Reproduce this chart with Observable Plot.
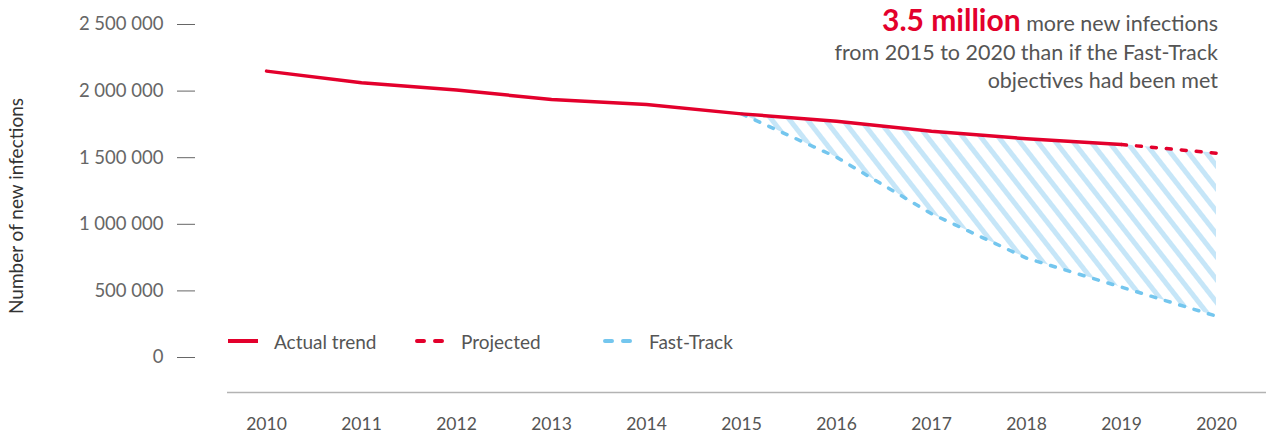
<!DOCTYPE html>
<html><head><meta charset="utf-8">
<script src="https://cdn.jsdelivr.net/npm/d3@7"></script>
<script src="https://cdn.jsdelivr.net/npm/@observablehq/plot@0.6"></script>
<style>
body{margin:0;background:#fff;font-family:Lato,"Open Sans",sans-serif;}
#wrap{position:relative;width:1266px;height:437px;overflow:hidden;}
#wrap > svg{position:absolute;left:0;top:0;}
.ytitle{position:absolute;left:15px;top:206px;transform:translate(-50%,-50%) rotate(-90deg);white-space:nowrap;font-size:19px;color:#333;}
.note{position:absolute;right:48px;top:5px;text-align:right;font-size:21.5px;line-height:28.5px;color:#555;}
.note b{color:#e3002c;font-size:30px;font-weight:700;}
.leg{position:absolute;top:330px;height:22px;display:flex;align-items:center;font-size:19px;color:#555;white-space:nowrap;}
#wrap .leg svg{position:static;margin-right:14px;display:block;}
</style></head><body><div id="wrap"></div>
<script>
const years = [2010, 2011, 2012, 2013, 2014, 2015, 2016, 2017, 2018, 2019, 2020];
const actual = [2150000, 2062000, 2008000, 1937000, 1899000, 1829000, 1774000, 1699000, 1642000, 1599000, null];
const projected = [null, null, null, null, null, null, null, null, null, 1599000, 1534000];
const fastTrack = [null, null, null, null, null, 1829000, 1504000, 1079000, 746000, 528000, 310000];
const yTicks = [0, 500000, 1000000, 1500000, 2000000, 2500000];
const legendLabels = ["Actual trend", "Projected", "Fast-Track"];
const noteBold = "3.5 million";
const noteLines = [" more new infections", "from 2015 to 2020 than if the Fast-Track", "objectives had been met"];
const yTitle = "Number of new infections";

const RED = "#e3002c", BLUE = "#74c6ee", HATCH = "#c6e6f8";

const rows = years.map((year, i) => ({year, actual: actual[i], projected: projected[i], fast: fastTrack[i]}));
const actualRows = rows.filter(d => d.actual != null);
const projRows = rows.filter(d => d.projected != null);
const fastRows = rows.filter(d => d.fast != null);
const areaRows = fastRows.map(d => ({year: d.year, lo: d.fast, hi: d.projected != null ? d.projected : d.actual}));

const fmt = d => d3.format(",")(d).replace(/,/g, " ");

const plot = Plot.plot({
  width: 1266, height: 437,
  marginLeft: 227, marginRight: 0, marginTop: 24, marginBottom: 80,
  style: {fontFamily: "Lato, 'Open Sans', sans-serif", color: "#666", background: "transparent"},
  x: {type: "point", domain: years, padding: 0.468, align: 0.44},
  y: {domain: [0, 2500000]},
  marks: [
    Plot.areaY(areaRows, {x: "year", y1: "lo", y2: "hi", fill: "url(#hatch)"}),
    Plot.ruleY([0], {stroke: "#b3b3b3", strokeWidth: 1.5, dy: 35}),
    Plot.axisY(yTicks, {tickSize: 18, tickPadding: 14, dx: -32, tickFormat: fmt, fontSize: 18.5, label: null, stroke: "#666"}),
    Plot.axisX({tickSize: 0, tickPadding: 60, tickFormat: d => String(d), fontSize: 17.5, label: null, fill: "#555"}),
    Plot.lineY(fastRows, {x: "year", y: "fast", stroke: BLUE, strokeWidth: 3.5, strokeDasharray: "5,10", strokeLinecap: "round"}),
    Plot.lineY(projRows, {x: "year", y: "projected", stroke: RED, strokeWidth: 3.5, strokeDasharray: "5,10", strokeLinecap: "round"}),
    Plot.lineY(actualRows, {x: "year", y: "actual", stroke: RED, strokeWidth: 3.5})
  ]
});

const svg = plot;
const defs = d3.select(svg).insert("defs", ":first-child");
const pat = defs.append("pattern").attr("id", "hatch").attr("patternUnits", "userSpaceOnUse")
  .attr("width", 14).attr("height", 14).attr("patternTransform", "rotate(-38)");
pat.append("rect").attr("width", 5).attr("height", 14).attr("fill", HATCH);

const wrap = document.getElementById("wrap");
wrap.appendChild(svg);

const t = document.createElement("div"); t.className = "ytitle"; t.textContent = yTitle; wrap.appendChild(t);

const note = document.createElement("div"); note.className = "note";
const b = document.createElement("b"); b.textContent = noteBold; note.appendChild(b);
note.appendChild(document.createTextNode(noteLines[0]));
for (let i = 1; i < noteLines.length; i++) { note.appendChild(document.createElement("br")); note.appendChild(document.createTextNode(noteLines[i])); }
wrap.appendChild(note);

const legLeft = [228, 415, 603];
const legStyle = [{c: RED, dash: null}, {c: RED, dash: "7,11"}, {c: BLUE, dash: "7,11"}];
legendLabels.forEach((lab, i) => {
  const d = document.createElement("div"); d.className = "leg"; d.style.left = legLeft[i] + "px";
  const s = d3.create("svg").attr("width", 32).attr("height", 8);
  s.append("line").attr("x1", legStyle[i].dash ? 2 : 0).attr("x2", 30).attr("y1", 4).attr("y2", 4)
    .attr("stroke", legStyle[i].c).attr("stroke-width", 4).attr("stroke-linecap", legStyle[i].dash ? "round" : "butt")
    .attr("stroke-dasharray", legStyle[i].dash);
  d.appendChild(s.node());
  const sp = document.createElement("span"); sp.textContent = lab; d.appendChild(sp);
  wrap.appendChild(d);
});
</script>
</body></html>
